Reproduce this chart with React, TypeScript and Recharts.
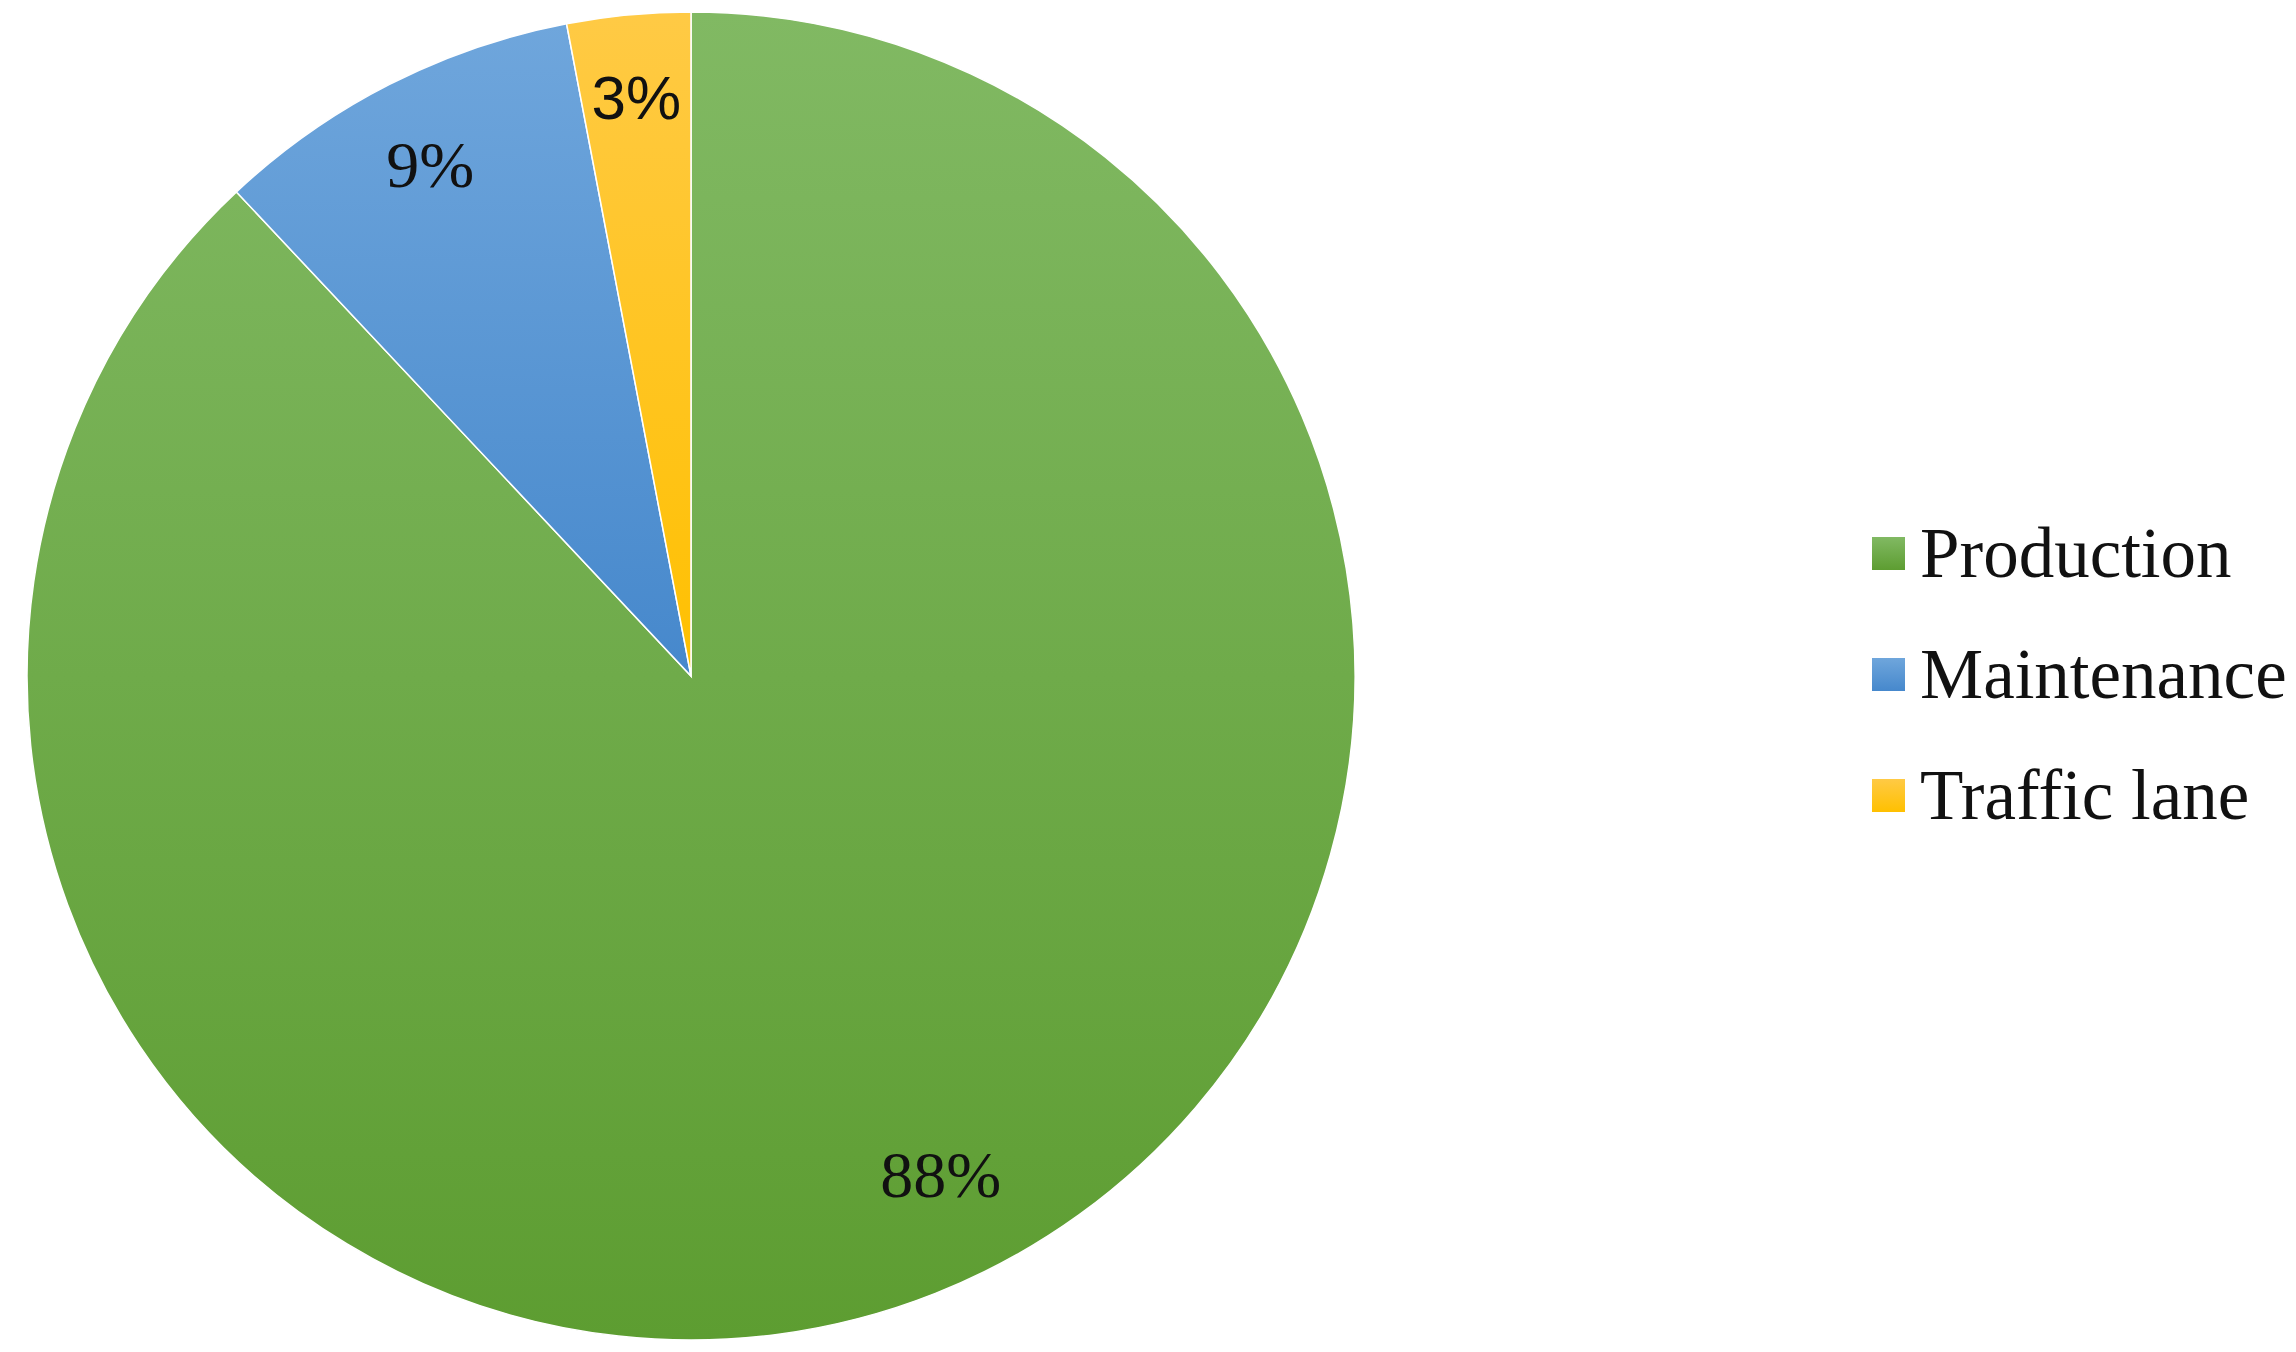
import { PieChart, Pie, Cell, Legend } from "recharts";

// Share of area by use, percent
const CATEGORIES = ["Production", "Maintenance", "Traffic lane"];
const SHARES = [88, 9, 3];

const data = CATEGORIES.map((name, i) => ({ name, value: SHARES[i] }));

// Office-style vertical gradients: light at top, darker at bottom
const GRADIENTS = [
  { id: "gProd", top: "#81b963", bottom: "#5d9d31" },
  { id: "gMaint", top: "#6fa6dc", bottom: "#4688cc" },
  { id: "gTraffic", top: "#ffca45", bottom: "#ffc000" },
];

const SERIF = "'Liberation Serif', 'Times New Roman', serif";
const SANS = "'Liberation Sans', Arial, sans-serif";
const RAD = Math.PI / 180;

function renderLabel(props: any) {
  const { cx, cy, midAngle, outerRadius, value, index } = props;
  const factor = index === 0 ? 0.84 : index === 2 ? 0.875 : 0.865;
  const angle = index === 0 ? midAngle + 5 : midAngle;
  const r = outerRadius * factor;
  const x = cx + r * Math.cos(-angle * RAD);
  const y = cy + r * Math.sin(-angle * RAD);
  return (
    <text
      x={x}
      y={y}
      textAnchor="middle"
      dominantBaseline="central"
      fill="#111"
      fontSize={index === 2 ? 62 : 66}
      fontFamily={index === 2 ? SANS : SERIF}
    >
      {`${value}%`}
    </text>
  );
}

function LegendContent({ payload }: any) {
  const items = [...(payload || [])].sort(
    (a: any, b: any) => CATEGORIES.indexOf(a.value) - CATEGORIES.indexOf(b.value)
  );
  return (
    <div style={{ fontFamily: SERIF, fontSize: 71, color: "#111" }}>
      {items.map((entry: any) => {
        const i = CATEGORIES.indexOf(entry.value);
        return (
          <div
            key={entry.value}
            style={{ display: "flex", alignItems: "center", height: 121 }}
          >
            <svg width={33} height={33} style={{ marginRight: 15 }}>
              <rect width={33} height={33} fill={`url(#${GRADIENTS[i].id})`} />
            </svg>
            <span>{entry.value}</span>
          </div>
        );
      })}
    </div>
  );
}

export default function App() {
  return (
    <div style={{ position: "absolute", left: 0, top: 0, background: "#fff" }}>
      <svg width={0} height={0} style={{ position: "absolute" }}>
        <defs>
          {GRADIENTS.map((g) => (
            <linearGradient key={g.id} id={g.id} x1="0" y1="0" x2="0" y2="1">
              <stop offset="0%" stopColor={g.top} />
              <stop offset="100%" stopColor={g.bottom} />
            </linearGradient>
          ))}
        </defs>
      </svg>
      <PieChart width={2296} height={1352}>
        <Pie
          data={data}
          dataKey="value"
          nameKey="name"
          cx={686}
          cy={671}
          outerRadius={664}
          startAngle={90}
          endAngle={-270}
          stroke="#ffffff"
          strokeWidth={1.5}
          label={renderLabel}
          labelLine={false}
          isAnimationActive={false}
        >
          {data.map((d, i) => (
            <Cell key={d.name} fill={`url(#${GRADIENTS[i].id})`} />
          ))}
        </Pie>
        <Legend
          layout="vertical"
          align="right"
          verticalAlign="middle"
          content={<LegendContent />}
          wrapperStyle={{ left: 1872, top: 493, right: "auto", bottom: "auto", width: 424 }}
        />
      </PieChart>
    </div>
  );
}
